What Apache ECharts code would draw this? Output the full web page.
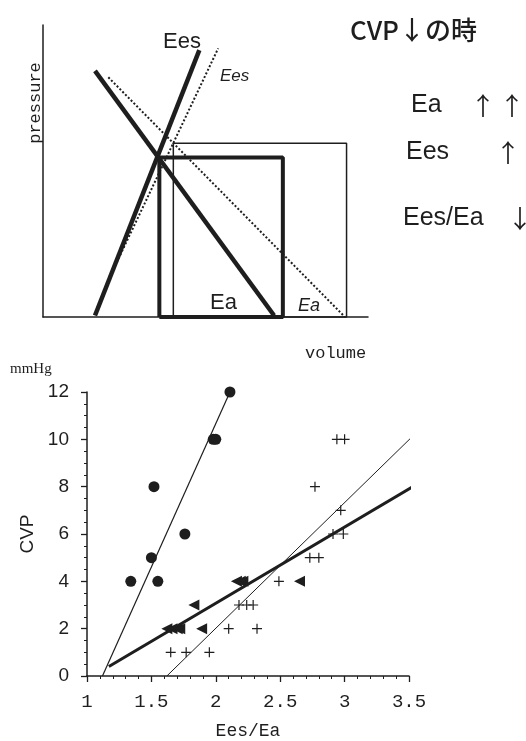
<!DOCTYPE html>
<html>
<head>
<meta charset="utf-8">
<script src="https://cdn.jsdelivr.net/npm/echarts@6/dist/echarts.min.js"></script>
<style>
  html, body { margin: 0; padding: 0; background: #fff; }
  #chart { width: 526px; height: 741px; }
</style>
</head>
<body>
<div id="chart"></div>
<script>
// --- schematic (pressure-volume), arbitrary units 0..100 ---
var eesThick = [[16, 0.5], [48.1, 91.4]];
var eaThick = [[16, 84.3], [71.1, 0.5]];
var eesDotted = [[20.6, 13.8], [53.9, 92]];
var eaDotted = [[20.1, 82.1], [92.9, 0]];
var loopThick = [[35.8, 0], [35.8, 54.6], [73.8, 54.6], [73.8, 0], [35.8, 0]];
var loopThin = [[40.1, 0], [40.1, 59.5], [93.4, 59.5], [93.4, 0], [40.1, 0]];

// --- scatter: CVP vs Ees/Ea ---
var circleX = [1.34, 1.50, 1.52, 1.55, 1.76, 1.98, 2.00, 2.11];
var circleY = [4, 5, 8, 4, 6, 10, 10, 12];
var triX = [1.62, 1.66, 1.70, 1.72, 1.83, 1.89, 2.16, 2.19, 2.21, 2.65];
var triY = [2, 2, 2, 2, 3, 2, 4, 4, 4, 4];
var plusX = [1.65, 1.77, 1.95, 2.10, 2.32, 2.18, 2.24, 2.29, 2.49, 2.73, 2.80, 2.91, 2.99, 2.97, 2.77, 2.94, 3.00];
var plusY = [1, 1, 1, 2, 2, 3, 3, 3, 4, 5, 5, 6, 6, 7, 8, 10, 10];
var fitCircle = [[1.12, 0], [2.11, 12]];
var fitTri = [[1.17, 0.4], [3.56, 8.1]];
var fitPlus = [[1.62, 0], [3.56, 10.3]];

var ink = '#1e1e1e';

function zip(xs, ys) {
    return xs.map(function (x, i) { return [x, ys[i]]; });
}

function schemLine(data, width, type) {
    return {
        type: 'line', xAxisIndex: 0, yAxisIndex: 0,
        data: data, symbol: 'none', silent: true, clip: false,
        lineStyle: { color: ink, width: width, type: type || 'solid' }
    };
}

function fitLine(data, width) {
    return {
        type: 'line', xAxisIndex: 1, yAxisIndex: 1,
        data: data, symbol: 'none', silent: true, clip: false,
        lineStyle: { color: ink, width: width }
    };
}

function txt(text, x, y, font, align) {
    return {
        type: 'text', x: x, y: y,
        style: { text: text, font: font, fill: ink, textAlign: align || 'left', textVerticalAlign: 'middle' }
    };
}

var sans = '"Liberation Sans", Arial, sans-serif';
var mono = '"Liberation Mono", "DejaVu Sans Mono", monospace';
var cjk = '"Noto Sans CJK JP", sans-serif';

var myChart = echarts.init(document.getElementById('chart'));

var option = {
    backgroundColor: '#fff',
    animation: false,
    grid: [
        { left: 43, top: 25, width: 325, height: 292 },
        { left: 87, top: 392, width: 322, height: 286 }
    ],
    xAxis: [
        {
            gridIndex: 0, type: 'value', min: 0, max: 100,
            axisLine: { show: true, lineStyle: { color: ink, width: 1.5 } },
            axisTick: { show: false }, axisLabel: { show: false }, splitLine: { show: false }
        },
        {
            gridIndex: 1, type: 'value', min: 1, max: 3.5, interval: 0.5,
            name: 'Ees/Ea', nameLocation: 'middle', nameGap: 46,
            nameTextStyle: { color: ink, fontSize: 18, fontFamily: mono },
            axisLine: { onZero: false, lineStyle: { color: ink, width: 1.5 } },
            axisTick: { length: 6, lineStyle: { color: ink, width: 1.3 } },
            minorTick: { show: true, splitNumber: 5, length: 3, lineStyle: { color: ink, width: 1 } },
            axisLabel: { color: ink, fontSize: 19, fontFamily: mono, margin: 16 },
            splitLine: { show: false }
        }
    ],
    yAxis: [
        {
            gridIndex: 0, type: 'value', min: 0, max: 100,
            axisLine: { show: true, lineStyle: { color: ink, width: 1.5 } },
            axisTick: { show: false }, axisLabel: { show: false }, splitLine: { show: false }
        },
        {
            gridIndex: 1, type: 'value', min: 0, max: 12, interval: 2,
            name: 'CVP', nameLocation: 'middle', nameGap: 42, nameRotate: 90,
            nameTextStyle: { color: ink, fontSize: 19, fontFamily: sans },
            axisLine: { onZero: false, lineStyle: { color: ink, width: 1.5 } },
            axisTick: { length: 6, lineStyle: { color: ink, width: 1.3 } },
            minorTick: { show: true, splitNumber: 4, length: 3, lineStyle: { color: ink, width: 1 } },
            axisLabel: { color: ink, fontSize: 19, fontFamily: sans, margin: 18 },
            splitLine: { show: false }
        }
    ],
    series: [
        schemLine(loopThin, 1.5),
        schemLine(loopThick, 4),
        schemLine(eesDotted, 2, [2, 2]),
        schemLine(eaDotted, 2, [2, 2]),
        schemLine(eesThick, 4.5),
        schemLine(eaThick, 4.5),
        fitLine(fitCircle, 1.2),
        fitLine(fitPlus, 1),
        fitLine(fitTri, 3),
        {
            type: 'scatter', xAxisIndex: 1, yAxisIndex: 1,
            data: zip(circleX, circleY), symbol: 'circle', symbolSize: 11,
            itemStyle: { color: ink, opacity: 1 }
        },
        {
            type: 'scatter', xAxisIndex: 1, yAxisIndex: 1,
            data: zip(triX, triY), symbol: 'path://M0,5L10,0L10,10Z', symbolSize: [11, 11],
            itemStyle: { color: ink, opacity: 1 }
        },
        {
            type: 'scatter', xAxisIndex: 1, yAxisIndex: 1,
            data: zip(plusX, plusY),
            symbol: 'path://M4.4,0H5.6V4.4H10V5.6H5.6V10H4.4V5.6H0V4.4H4.4Z', symbolSize: 10,
            itemStyle: { color: ink, opacity: 1 }
        }
    ],
    graphic: [
        txt('pressure', 0, 0, '17px ' + mono, 'center'),
        txt('volume', 305, 353, '17px ' + mono),
        txt('Ees', 163, 42, '22px ' + sans),
        txt('Ees', 220, 76, 'italic 17px ' + sans),
        txt('Ea', 210, 303, '22px ' + sans),
        txt('Ea', 298, 306, 'italic 18px ' + sans),
        txt('CVP↓の時', 350, 30, '500 26px ' + cjk),
        txt('Ea', 411, 105, '25px ' + sans),
        txt('↑', 483, 105, '25px ' + cjk, 'center'),
        txt('↑', 512, 105, '25px ' + cjk, 'center'),
        txt('Ees', 406, 152, '25px ' + sans),
        txt('↑', 508, 152, '25px ' + cjk, 'center'),
        txt('Ees/Ea', 403, 218, '25px ' + sans),
        txt('↓', 520, 218, '25px ' + cjk, 'center'),
        txt('mmHg', 10, 369, '15px "Liberation Serif", serif')
    ]
};

// rotate the pressure label to read bottom-to-top
option.graphic[0].x = 35;
option.graphic[0].y = 103;
option.graphic[0].rotation = Math.PI / 2;

myChart.setOption(option);
</script>
</body>
</html>
